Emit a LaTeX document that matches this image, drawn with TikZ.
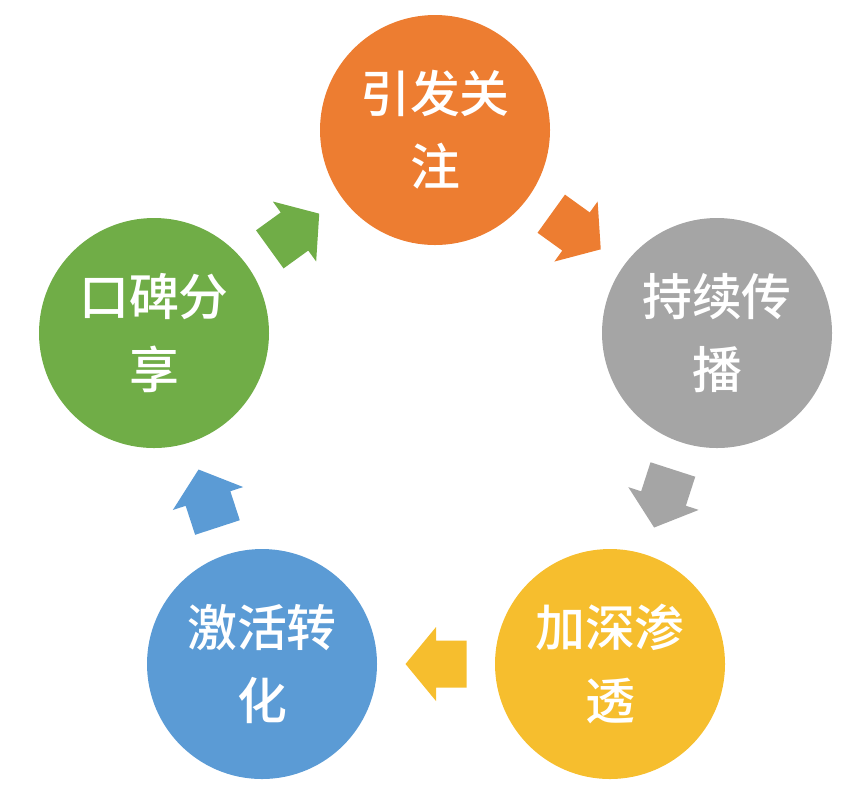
\documentclass[tikz,border=0pt]{standalone}
\usepackage{fontspec}
\newfontfamily\cjk{Noto Sans CJK SC Medium}
\usepackage{tikz}
\usetikzlibrary{calc,positioning}
\usepackage{xcolor}
\definecolor{cyorange}{RGB}{237,125,49}
\definecolor{cygray}{RGB}{165,165,165}
\definecolor{cygold}{RGB}{246,190,46}
\definecolor{cyblue}{RGB}{91,155,213}
\definecolor{cygreen}{RGB}{112,173,71}
\tikzstyle{stage} = [circle,minimum size=2.3cm,inner sep=0pt,align=center,text=white,font=\cjk\fontsize{14.2pt}{20.8pt}\selectfont]
% block arrow half way between two stages: from, to, colour
\newcommand{\cyclearrow}[3]{%
\coordinate (#1-#2-m) at ($(#1)!0.5!(#2)$);
\coordinate (#1-#2-t) at ($(#1-#2-m)!-0.305cm!(#2)$);
\fill[#3] ($(#1-#2-m)!0.305cm!(#2)$) -- ($(#1-#2-m)!0.37cm!90:(#2)$) -- ($(#1-#2-m)!0.235cm!90:(#2)$)
  -- ($(#1-#2-t)!0.235cm!90:(#1-#2-m)$) -- ($(#1-#2-t)!0.235cm!-90:(#1-#2-m)$)
  -- ($(#1-#2-m)!0.235cm!-90:(#2)$) -- ($(#1-#2-m)!0.37cm!-90:(#2)$) -- cycle;}

\begin{document}
\begin{tikzpicture}
\useasboundingbox (0,0) rectangle (8.64,-7.93);

% Stages
\node[stage, fill=cyorange] (attn) at (4.35,-1.30) {引发关\\注};
\node[stage, fill=cygray] (spread) at (7.17,-3.33) {持续传\\播};
\node[stage, fill=cygold] (deepen) at (6.10,-6.64) {加深渗\\透};
\node[stage, fill=cyblue] (convert) at (2.62,-6.64) {激活转\\化};
\node[stage, fill=cygreen] (share) at (1.54,-3.33) {口碑分\\享};

% Arrows
\cyclearrow{attn}{spread}{cyorange}
\cyclearrow{spread}{deepen}{cygray}
\cyclearrow{deepen}{convert}{cygold}
\cyclearrow{convert}{share}{cyblue}
\cyclearrow{share}{attn}{cygreen}
\end{tikzpicture}
\end{document}
